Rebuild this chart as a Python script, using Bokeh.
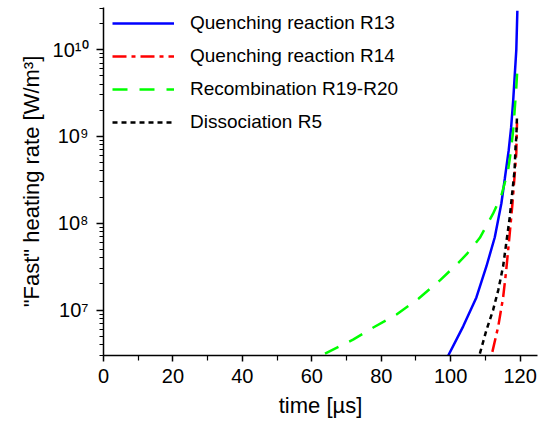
from bokeh.plotting import figure
from bokeh.models import FixedTicker, CustomJSTickFormatter, Legend, LegendItem
from bokeh.embed import file_html
from bokeh.resources import INLINE

# ---- data ----
time_r13 = [99.3, 103.6, 107.4, 110.3, 112.7, 114.6, 115.6, 116.7, 117.4, 118.0, 118.9, 119.2]
rate_r13 = [3.0e6, 6.5e6, 1.4e7, 3.2e7, 6.9e7, 1.7e8, 3.3e8, 6.9e8, 1.26e9, 2.6e9, 1.0e10, 2.8e10]

time_r14 = [112.0, 113.7, 115.1, 116.0, 117.0, 117.8, 118.4, 118.9, 119.1]
rate_r14 = [3.3e6, 6.5e6, 1.4e7, 2.9e7, 7.6e7, 1.7e8, 3.5e8, 6.5e8, 1.45e9]

time_rec = [63.8, 72.0, 77.7, 84.4, 90.7, 96.9, 102.2, 104.6, 108.4, 112.2, 114.6,
            116.5, 117.3, 118.0, 118.5, 118.9, 119.2]
rate_rec = [3.16e6, 4.6e6, 6.3e6, 8.9e6, 1.35e7, 2.2e7, 3.5e7, 4.4e7, 6.8e7, 1.29e8, 2.1e8,
            4.0e8, 6.6e8, 1.17e9, 2.2e9, 3.7e9, 6.0e9]

time_r5 = [108.4, 110.3, 112.2, 113.7, 115.1, 116.0, 117.0, 117.8, 118.4, 118.7, 118.9, 119.1]
rate_r5 = [3.16e6, 5.9e6, 1.0e7, 1.7e7, 3.2e7, 5.9e7, 1.17e8, 2.4e8, 4.1e8, 7.9e8, 9.8e8, 1.74e9]

series_names = ["Quenching reaction R13", "Quenching reaction R14",
                "Recombination R19-R20", "Dissociation R5"]

x_major_ticks = [0, 20, 40, 60, 80, 100, 120]
x_minor_ticks = [10, 30, 50, 70, 90, 110]
y_major_ticks = [1e7, 1e8, 1e9, 1e10]
y_minor_ticks = [m * 10.0 ** e for e in range(6, 11) for m in range(2, 10)]

FONT = "Liberation Sans"

p = figure(width=542, height=424, x_range=(0, 125), y_range=(3e6, 3.05e10),
           y_axis_type="log", output_backend="svg", toolbar_location=None,
           min_border_left=103, min_border_right=5, min_border_top=7,
           min_border_bottom=69)
p.outline_line_color = None
p.xgrid.visible = False
p.ygrid.visible = False
p.background_fill_color = "white"
p.border_fill_color = "white"

r1 = p.line(time_r13, rate_r13, line_color="#0000FF", line_width=2.5)
r2 = p.line(time_r14, rate_r14, line_color="#FF0000", line_width=2.5, line_dash="14 5 4 5")
r3 = p.line(time_rec, rate_rec, line_color="#00FF00", line_width=2.5, line_dash="15 12")
r4 = p.line(time_r5, rate_r5, line_color="#000000", line_width=2.5, line_dash="5 4")

xa = p.xaxis[0]
xa.ticker = FixedTicker(ticks=x_major_ticks, minor_ticks=x_minor_ticks)
xa.axis_label = "time [µs]"
ya = p.yaxis[0]
ya.ticker = FixedTicker(ticks=y_major_ticks, minor_ticks=y_minor_ticks)
ya.formatter = CustomJSTickFormatter(code="""
const sup = {'0':'\u2070','1':'\u00b9','2':'\u00b2','3':'\u00b3','4':'\u2074','5':'\u2075','6':'\u2076','7':'\u2077','8':'\u2078','9':'\u2079'};
const e = Math.round(Math.log10(tick));
return '10' + String(e).split('').map(c => sup[c]).join('');
""")
ya.axis_label = '"Fast" heating rate [W/m³]'

for ax in (xa, ya):
    ax.axis_line_width = 1.5
    ax.axis_line_color = "black"
    ax.major_tick_line_color = "black"
    ax.minor_tick_line_color = "black"
    ax.major_tick_line_width = 1.5
    ax.minor_tick_line_width = 1.2
    ax.major_tick_in = 0
    ax.minor_tick_in = 0
    ax.major_label_text_font = FONT
    ax.major_label_text_font_size = "20px"
    ax.major_label_text_color = "black"
    ax.axis_label_text_font = FONT
    ax.axis_label_text_font_size = "22px"
    ax.axis_label_text_font_style = "normal"
    ax.axis_label_text_color = "black"

xa.major_tick_out = 6
xa.minor_tick_out = 5
xa.major_label_standoff = 7
xa.axis_label_standoff = 7
ya.major_tick_out = 7
ya.minor_tick_out = 4
ya.major_label_standoff = 8
ya.axis_label_standoff = 6

legend = Legend(items=[LegendItem(label=series_names[0], renderers=[r1]),
                       LegendItem(label=series_names[1], renderers=[r2]),
                       LegendItem(label=series_names[2], renderers=[r3]),
                       LegendItem(label=series_names[3], renderers=[r4])],
                location=(9, 222))
legend.border_line_color = None
legend.background_fill_alpha = 0
legend.padding = 0
legend.margin = 0
legend.spacing = 11
legend.glyph_width = 62
legend.glyph_height = 22
legend.label_height = 22
legend.label_standoff = 16
legend.label_text_font = FONT
legend.label_text_font_size = "19px"
legend.label_text_color = "black"
p.add_layout(legend, "center")

open("out.html", "w").write(file_html(p, INLINE))
